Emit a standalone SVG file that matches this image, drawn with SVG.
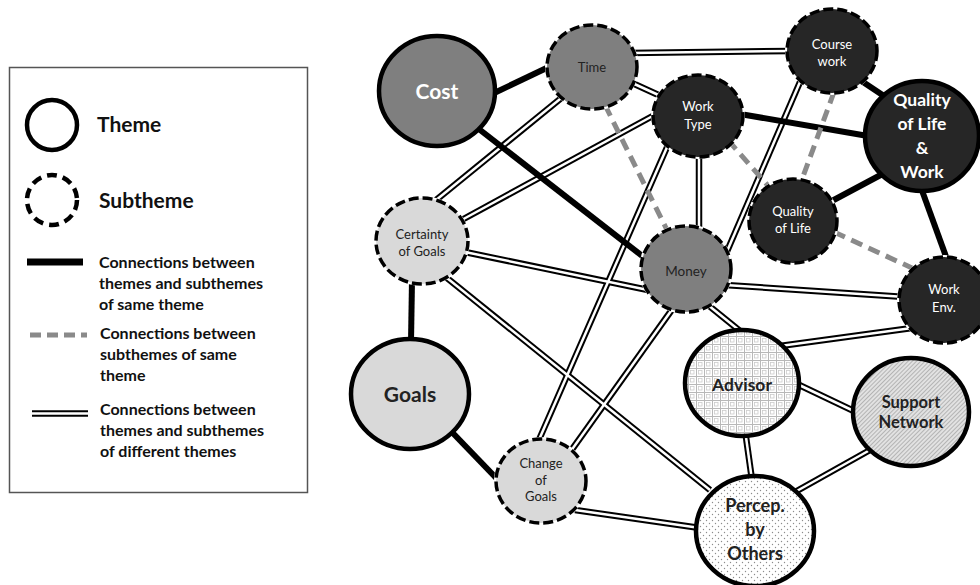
<svg xmlns="http://www.w3.org/2000/svg" width="980" height="585" viewBox="0 0 980 585">
<defs>
<pattern id="grid" width="8" height="8" patternUnits="userSpaceOnUse">
<rect width="8" height="8" fill="#ffffff"/>
<path d="M0 0.5H8M0.5 0V8" stroke="#b8b8b8" stroke-width="1"/>
<rect x="2.5" y="2.5" width="3.5" height="3.5" fill="none" stroke="#cccccc" stroke-width="0.8"/>
</pattern>
<pattern id="hatch" width="3" height="3" patternUnits="userSpaceOnUse" patternTransform="rotate(45)">
<rect width="3" height="3" fill="#e2e2e2"/>
<line x1="0" y1="0" x2="0" y2="3" stroke="#959595" stroke-width="1.2"/>
</pattern>
<pattern id="dots" width="6" height="6" patternUnits="userSpaceOnUse">
<rect width="6" height="6" fill="#ffffff"/>
<circle cx="1.5" cy="1.5" r="0.7" fill="#8c8c8c"/>
<circle cx="4.5" cy="4.5" r="0.7" fill="#8c8c8c"/>
</pattern>
</defs>
<style>
.lg{font-family:Lato,"Open Sans",sans-serif;font-weight:bold;fill:#111}
.th{stroke:#000;stroke-width:4.5}
.sub{stroke:#000;stroke-width:3.5;stroke-dasharray:10 4}
.halo{fill:#fff}
.solid{stroke:#000;stroke-width:6;fill:none}
.dash{stroke:#8a8a8a;stroke-width:5;stroke-dasharray:12 7;fill:none}
.dbo{stroke:#000;stroke-width:6.5;fill:none}
.dbi{stroke:#fff;stroke-width:2.5;fill:none}
.t{font-family:Lato,"Open Sans",sans-serif;text-anchor:middle}
.ts{font-size:13px}
.w{fill:#fff}
.k{fill:#222}
.b{font-weight:bold}
</style>
<rect width="980" height="585" fill="#fff"/>
<g id="legend">
<rect x="9.5" y="67.5" width="298" height="425" fill="#fff" stroke="#555" stroke-width="1.5"/>
<circle cx="52" cy="125" r="25" fill="none" stroke="#000" stroke-width="4.5"/>
<text x="97" y="132" class="lg" font-size="21">Theme</text>
<circle cx="52" cy="200" r="25" fill="none" stroke="#000" stroke-width="4.5" stroke-dasharray="10 6"/>
<text x="99" y="208" class="lg" font-size="21">Subtheme</text>
<line x1="27" y1="262" x2="83" y2="262" stroke="#000" stroke-width="7"/>
<text class="lg" font-size="16"><tspan x="99" y="268">Connections between</tspan><tspan x="99" y="289">themes and subthemes</tspan><tspan x="99" y="310">of same theme</tspan></text>
<line x1="30" y1="335" x2="87" y2="335" stroke="#8a8a8a" stroke-width="5" stroke-dasharray="11 6"/>
<text class="lg" font-size="16"><tspan x="100" y="339">Connections between</tspan><tspan x="100" y="360">subthemes of same</tspan><tspan x="100" y="381">theme</tspan></text>
<line x1="32" y1="413.5" x2="88" y2="413.5" class="dbo"/>
<line x1="32" y1="413.5" x2="88" y2="413.5" class="dbi"/>
<text class="lg" font-size="16"><tspan x="100" y="415">Connections between</tspan><tspan x="100" y="436">themes and subthemes</tspan><tspan x="100" y="457">of different themes</tspan></text>
</g>
<g id="connectors">
<g class="dbo">
<line x1="630" y1="53" x2="792" y2="51"/>
<line x1="630" y1="82" x2="665" y2="98"/>
<line x1="565" y1="95" x2="430" y2="205"/>
<line x1="458" y1="222" x2="660" y2="112"/>
<line x1="465" y1="252" x2="648" y2="290"/>
<line x1="447" y1="278" x2="710" y2="490"/>
<line x1="699" y1="150" x2="699" y2="232"/>
<line x1="668" y1="145" x2="538" y2="442"/>
<line x1="676" y1="304" x2="568" y2="455"/>
<line x1="800" y1="82" x2="725" y2="256"/>
<line x1="725" y1="285" x2="905" y2="297"/>
<line x1="708" y1="305" x2="745" y2="335"/>
<line x1="780" y1="346" x2="912" y2="328"/>
<line x1="795" y1="383" x2="858" y2="413"/>
<line x1="745" y1="430" x2="752" y2="480"/>
<line x1="870" y1="450" x2="795" y2="492"/>
<line x1="575" y1="510" x2="700" y2="528"/>
</g>
<g class="dbi">
<line x1="630" y1="53" x2="792" y2="51"/>
<line x1="630" y1="82" x2="665" y2="98"/>
<line x1="565" y1="95" x2="430" y2="205"/>
<line x1="458" y1="222" x2="660" y2="112"/>
<line x1="465" y1="252" x2="648" y2="290"/>
<line x1="447" y1="278" x2="710" y2="490"/>
<line x1="699" y1="150" x2="699" y2="232"/>
<line x1="668" y1="145" x2="538" y2="442"/>
<line x1="676" y1="304" x2="568" y2="455"/>
<line x1="800" y1="82" x2="725" y2="256"/>
<line x1="725" y1="285" x2="905" y2="297"/>
<line x1="708" y1="305" x2="745" y2="335"/>
<line x1="780" y1="346" x2="912" y2="328"/>
<line x1="795" y1="383" x2="858" y2="413"/>
<line x1="745" y1="430" x2="752" y2="480"/>
<line x1="870" y1="450" x2="795" y2="492"/>
<line x1="575" y1="510" x2="700" y2="528"/>
</g>
<g class="solid">
<line x1="490" y1="95" x2="555" y2="64"/>
<line x1="475" y1="126" x2="650" y2="262"/>
<line x1="412" y1="280" x2="411" y2="342"/>
<line x1="448" y1="428" x2="500" y2="482"/>
<line x1="740" y1="114" x2="868" y2="136"/>
<line x1="860" y1="80" x2="890" y2="100"/>
<line x1="830" y1="202" x2="890" y2="170"/>
<line x1="920" y1="185" x2="948" y2="262"/>
</g>
<g class="dash">
<line x1="605" y1="105" x2="668" y2="232"/>
<line x1="834" y1="92" x2="801" y2="182"/>
<line x1="728" y1="140" x2="770" y2="188"/>
<line x1="834" y1="232" x2="912" y2="268"/>
</g>
</g>
<g id="node-cost">
<ellipse cx="437" cy="91" rx="58" ry="55" fill="#7f7f7f" class="th"/>
<text x="437" y="99" class="t b w" font-size="21">Cost</text>
</g>
<g id="node-time">
<ellipse cx="592" cy="67" rx="47" ry="44" class="halo"/>
<ellipse cx="592" cy="67" rx="45" ry="42" fill="#7f7f7f" class="sub"/>
<text x="592" y="72" class="t ts k">Time</text>
</g>
<g id="node-certainty">
<ellipse cx="422" cy="241" rx="48" ry="45" class="halo"/>
<ellipse cx="422" cy="241" rx="46" ry="43" fill="#d9d9d9" class="sub"/>
<text class="t ts k"><tspan x="422" y="239">Certainty</tspan><tspan x="422" y="256">of Goals</tspan></text>
</g>
<g id="node-goals">
<ellipse cx="410" cy="394" rx="59" ry="55" fill="#d9d9d9" class="th"/>
<text x="410" y="402" class="t b k" font-size="21">Goals</text>
</g>
<g id="node-change">
<ellipse cx="541" cy="481" rx="47" ry="44" class="halo"/>
<ellipse cx="541" cy="481" rx="45" ry="42" fill="#d9d9d9" class="sub"/>
<text class="t ts k"><tspan x="541" y="468">Change</tspan><tspan x="541" y="485">of</tspan><tspan x="541" y="501">Goals</tspan></text>
</g>
<g id="node-money">
<ellipse cx="686" cy="269" rx="47" ry="45" class="halo"/>
<ellipse cx="686" cy="269" rx="45" ry="43" fill="#7f7f7f" class="sub"/>
<text x="686" y="276" class="t k" font-size="13.5">Money</text>
</g>
<g id="node-worktype">
<ellipse cx="698" cy="116" rx="47" ry="43" class="halo"/>
<ellipse cx="698" cy="116" rx="45" ry="41" fill="#262626" class="sub"/>
<text class="t ts w"><tspan x="698" y="111">Work</tspan><tspan x="698" y="129">Type</tspan></text>
</g>
<g id="node-coursework">
<ellipse cx="832" cy="51" rx="47" ry="44" class="halo"/>
<ellipse cx="832" cy="51" rx="45" ry="42" fill="#262626" class="sub"/>
<text class="t ts w"><tspan x="832" y="49">Course</tspan><tspan x="832" y="66">work</tspan></text>
</g>
<g id="node-qolw">
<ellipse cx="922" cy="136" rx="57" ry="55" fill="#262626" class="th"/>
<text class="t b w" font-size="17.5"><tspan x="922" y="106">Quality</tspan><tspan x="922" y="130">of Life</tspan><tspan x="922" y="154">&amp;</tspan><tspan x="922" y="178">Work</tspan></text>
</g>
<g id="node-qol">
<ellipse cx="793" cy="221" rx="46" ry="44" class="halo"/>
<ellipse cx="793" cy="221" rx="44" ry="42" fill="#262626" class="sub"/>
<text class="t ts w"><tspan x="793" y="216">Quality</tspan><tspan x="793" y="233">of Life</tspan></text>
</g>
<g id="node-workenv">
<ellipse cx="944" cy="300" rx="47" ry="45" class="halo"/>
<ellipse cx="944" cy="300" rx="45" ry="43" fill="#262626" class="sub"/>
<text class="t ts w"><tspan x="944" y="294">Work</tspan><tspan x="944" y="312">Env.</tspan></text>
</g>
<g id="node-advisor">
<ellipse cx="742" cy="383" rx="57" ry="53" fill="url(#grid)" class="th"/>
<text x="742" y="391" class="t b k" font-size="17.5">Advisor</text>
</g>
<g id="node-support">
<ellipse cx="911" cy="412" rx="58" ry="54" fill="url(#hatch)" class="th"/>
<text class="t b k" font-size="16.5"><tspan x="911" y="408">Support</tspan><tspan x="911" y="428">Network</tspan></text>
</g>
<g id="node-percep">
<ellipse cx="755" cy="531" rx="59" ry="55" fill="url(#dots)" class="th"/>
<text class="t b k" font-size="18"><tspan x="755" y="512">Percep.</tspan><tspan x="755" y="536">by</tspan><tspan x="755" y="560">Others</tspan></text>
</g>
</svg>
